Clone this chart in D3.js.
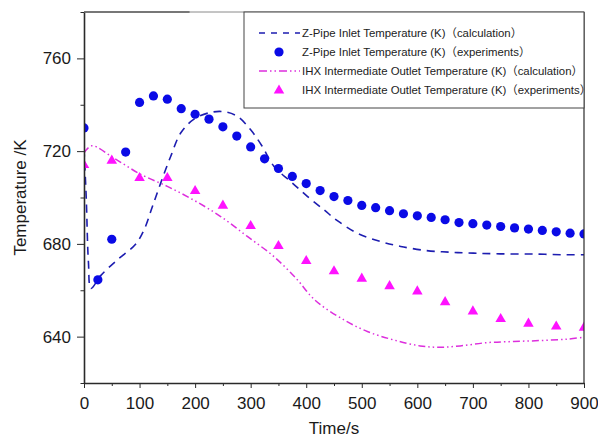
<!DOCTYPE html>
<html>
<head>
  <meta charset='utf-8'/>
  <style>
body { margin: 0; background: #fff; }
text { font-family: "Liberation Sans", Arial, "Noto Sans CJK SC", sans-serif; fill: #1a1a1a; }
.axis path, .axis line { stroke: #2a2a2a; }
.axis text { font-size: 17px; }
.legend text { font-size: 11.4px; fill: #222; }
  </style>
  <script src="https://d3js.org/d3.v7.min.js" charset="utf-8"></script>
</head>
<body>
<svg width="598" height="438"></svg>
<script>

// Z-Pipe inlet, experiments (every 25 s)
var zExpTime = [0, 25, 50, 75, 100, 125, 150, 175, 200, 225, 250, 275, 300, 325, 350, 375, 400, 425, 450, 475,
                500, 525, 550, 575, 600, 625, 650, 675, 700, 725, 750, 775, 800, 825, 850, 875, 900];
var zExpTemp = [730, 664.5, 682, 719.6, 741, 743.8, 742.4, 738.3, 735.9, 733.8, 730.5, 726.5, 721.8, 716.7, 712.5, 709.1, 706, 703, 700.4, 698.7,
                696.6, 695.6, 694.3, 693, 692.1, 691.4, 690.4, 689.2, 688.7, 688.1, 687.5, 686.9, 686.4, 685.8, 685.2, 684.6, 684.3];

// Z-Pipe inlet, calculation
var zCalcTime = [0, 4, 8, 12.6, 30, 60, 92, 108, 123, 138, 156, 174, 198, 228, 252, 276, 300, 321, 342, 372, 402,
                 432, 456, 492, 534, 570, 617, 659, 701, 749, 809, 869, 900];
var zCalcTemp = [721, 700, 672, 660.8, 666.3, 673.1, 679.6, 686, 696, 706.2, 717.7, 727.8, 733.8, 736.7, 737, 735, 729.2, 722, 713.4, 706.9, 700.5,
                 694.7, 690, 684.6, 681, 678.9, 677.1, 676.4, 676, 675.7, 675.6, 675.3, 675.3];

// IHX intermediate outlet, experiments (every 50 s)
var iExpTime = [0, 50, 100, 150, 200, 250, 300, 350, 400, 450, 500, 550, 600, 650, 700, 750, 800, 850, 900];
var iExpTemp = [714.2, 716.1, 708.6, 708.6, 703, 696.7, 687.9, 679.3, 672.8, 668.4, 665.2, 662, 659.7, 655.1, 651.1, 647.8, 645.8, 644.6, 644.1];

// IHX intermediate outlet, calculation
var iCalcTime = [0, 14, 55, 102, 150, 198, 246, 294, 342, 384, 408, 426, 468, 510, 557, 605, 641, 677, 725, 773, 821, 869, 900];
var iCalcTemp = [719.2, 722.3, 716.8, 710, 704.8, 698.8, 691.8, 683.2, 674.5, 664.5, 657.6, 653.7, 647.2, 642.2, 638.6, 636, 635.4, 636, 637.4, 637.9, 638.3, 638.9, 639.8];

var xTicks = [0, 100, 200, 300, 400, 500, 600, 700, 800, 900];
var yTicks = [640, 680, 720, 760];
var legendLabels = [
  "Z-Pipe Inlet Temperature (K)\uff08calculation\uff09",
  "Z-Pipe Inlet Temperature (K)\uff08experiments\uff09",
  "IHX Intermediate Outlet Temperature (K)\uff08calculation\uff09",
  "IHX Intermediate Outlet Temperature (K)\uff08experiments\uff09"
];

var svg = d3.select("svg"),
    margin = {top: 12, right: 14, bottom: 55, left: 84},
    width = +svg.attr("width") - margin.left - margin.right,
    height = +svg.attr("height") - margin.top - margin.bottom,
    g = svg.append("g").attr("transform", "translate(" + margin.left + "," + margin.top + ")");

var x = d3.scaleLinear().domain([0, 900]).range([0, width]);
var y = d3.scaleLinear().domain([620, 780]).range([height, 0]);

var blue = "#0a0ae6", navy = "#1d1db0", magenta = "#ff12ff", plum = "#dd2edd";

svg.append("defs").append("clipPath").attr("id", "clip")
  .append("rect").attr("width", width).attr("height", height);

var plot = g.append("g").attr("clip-path", "url(#clip)");

var line = d3.line()
    .x(function(d) { return x(d[0]); })
    .y(function(d) { return y(d[1]); })
    .curve(d3.curveCatmullRom.alpha(0.5));

plot.append("path")
    .datum(d3.zip(iCalcTime, iCalcTemp))
    .attr("d", line)
    .attr("fill", "none")
    .attr("stroke", plum)
    .attr("stroke-width", 1.5)
    .attr("stroke-dasharray", "7,3,1.5,3,1.5,3");

plot.append("path")
    .datum(d3.zip(zCalcTime, zCalcTemp))
    .attr("d", line)
    .attr("fill", "none")
    .attr("stroke", navy)
    .attr("stroke-width", 1.6)
    .attr("stroke-dasharray", "8,6");

var tri = d3.symbol().type(d3.symbolTriangle).size(48);

plot.selectAll(".tri")
  .data(d3.zip(iExpTime, iExpTemp))
  .enter().append("path")
    .attr("class", "tri")
    .attr("d", tri)
    .attr("transform", function(d) { return "translate(" + x(d[0]) + "," + (y(d[1]) + 0.5) + ")"; })
    .attr("fill", magenta);

plot.selectAll(".dot")
  .data(d3.zip(zExpTime, zExpTemp))
  .enter().append("circle")
    .attr("class", "dot")
    .attr("cx", function(d) { return x(d[0]); })
    .attr("cy", function(d) { return y(d[1]); })
    .attr("r", 4.6)
    .attr("fill", blue);

// axes
g.append("g")
    .attr("class", "axis")
    .attr("transform", "translate(0," + height + ")")
    .call(d3.axisBottom(x).tickValues(d3.range(50, 900, 100)).tickSize(3).tickFormat(""))
    .call(function(s) { s.select(".domain").remove(); });

g.append("g")
    .attr("class", "axis")
    .attr("transform", "translate(0," + height + ")")
    .call(d3.axisBottom(x).tickValues(xTicks).tickSizeInner(5).tickSizeOuter(0).tickPadding(9))
    .call(function(s) { s.select(".domain").attr("stroke-width", 1.6); });

g.append("g")
    .attr("class", "axis")
    .call(d3.axisLeft(y).tickValues(d3.range(620, 781, 40)).tickSize(3.5).tickFormat(""))
    .call(function(s) { s.select(".domain").remove(); });

g.append("g")
    .attr("class", "axis")
    .call(d3.axisLeft(y).tickValues(yTicks).tickSizeInner(7).tickSizeOuter(0).tickPadding(6))
    .call(function(s) { s.select(".domain").attr("stroke-width", 1.6); });

// right and top frame
g.append("line")
    .attr("x1", width).attr("x2", width).attr("y1", 0).attr("y2", height)
    .attr("stroke", "#2a2a2a").attr("stroke-width", 1.2);
g.append("line")
    .attr("x1", 0).attr("x2", width).attr("y1", 0).attr("y2", 0)
    .attr("stroke", "#8a8a8a").attr("stroke-width", 1);
g.append("line")
    .attr("x1", 0).attr("x2", x(190)).attr("y1", 0).attr("y2", 0)
    .attr("stroke", "#2a2a2a").attr("stroke-width", 1.2);

// axis titles
svg.append("text")
    .attr("x", margin.left + x(450))
    .attr("y", 434)
    .attr("text-anchor", "middle")
    .style("font-size", "17px")
    .text("Time/s");

svg.append("text")
    .attr("transform", "translate(26," + (margin.top + y(700)) + ") rotate(-90)")
    .attr("text-anchor", "middle")
    .style("font-size", "17px")
    .text("Temperature /K");

// legend
var legend = g.append("g").attr("class", "legend")
    .attr("transform", "translate(" + x(288) + ",0)");
var legW = width - x(288), legH = 96;

legend.append("rect")
    .attr("width", legW).attr("height", legH)
    .attr("fill", "#fff")
    .attr("stroke", "#444").attr("stroke-width", 1);

var rowY = function(i) { return 21 + i * 19; };

legend.append("line")
    .attr("x1", 15).attr("x2", 56).attr("y1", rowY(0)).attr("y2", rowY(0))
    .attr("stroke", navy).attr("stroke-width", 1.6).attr("stroke-dasharray", "6,6");
legend.append("circle")
    .attr("cx", 35).attr("cy", rowY(1)).attr("r", 4.6).attr("fill", blue);
legend.append("line")
    .attr("x1", 15).attr("x2", 56).attr("y1", rowY(2)).attr("y2", rowY(2))
    .attr("stroke", plum).attr("stroke-width", 1.6).attr("stroke-dasharray", "8,3,1.5,3,1.5,3");
legend.append("path")
    .attr("d", tri)
    .attr("transform", "translate(35," + (rowY(3) + 0.5) + ")")
    .attr("fill", magenta);

legend.selectAll(".ltext")
  .data(legendLabels)
  .enter().append("text")
    .attr("class", "ltext")
    .attr("x", 58)
    .attr("y", function(d, i) { return rowY(i); })
    .attr("dy", "0.35em")
    .text(function(d) { return d; });

</script>
</body>
</html>
